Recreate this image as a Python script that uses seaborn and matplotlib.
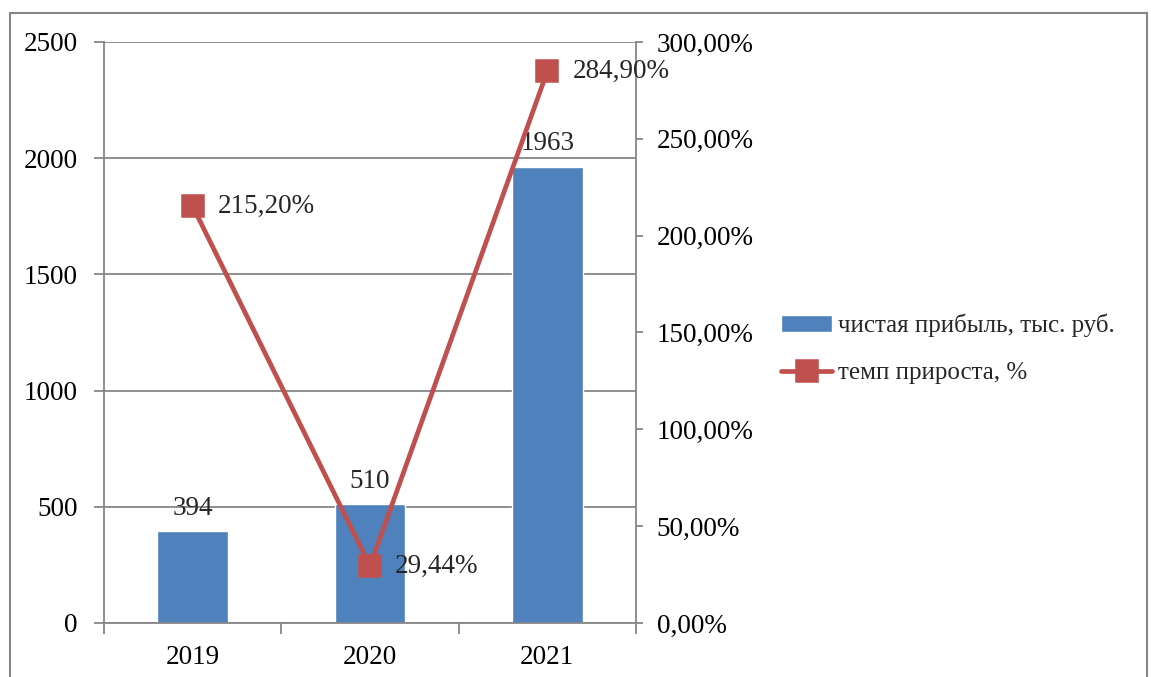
import matplotlib
matplotlib.use("Agg")
import matplotlib.pyplot as plt
import seaborn as sns
import pandas as pd
from matplotlib.patches import Rectangle
from matplotlib.ticker import FuncFormatter, FixedLocator

# Data
years = ["2019", "2020", "2021"]
profit = [394, 510, 1963]              # чистая прибыль, тыс. руб.
growth = [215.20, 29.44, 284.90]       # темп прироста, %
profit_label = "чистая прибыль, тыс. руб."
growth_label = "темп прироста, %"
left_ticks = [0, 500, 1000, 1500, 2000, 2500]
right_ticks = [0, 50, 100, 150, 200, 250, 300]

df = pd.DataFrame({"year": years, "profit": profit, "growth": growth})

sns.set_theme(style="white")
plt.rcParams["font.family"] = ["Liberation Serif", "DejaVu Serif"]
FS = 19.5

BLUE = "#4F81BD"
RED = "#C0504D"
GRAY = "#868686"

W, H = 1151, 677
fig = plt.figure(figsize=(W / 100, H / 100), dpi=100)

# outer chart frame
fig.patches.append(Rectangle((10 / W, -0.01), 1137 / W, (H - 13) / H + 0.01,
                             transform=fig.transFigure, fill=False,
                             edgecolor=GRAY, linewidth=1.5, zorder=0))

ax = fig.add_axes([104 / W, (H - 623) / H, 532 / W, 581 / H])
ax.set_facecolor("none")

sns.barplot(data=df, x="year", y="profit", color=BLUE, width=0.4,
            saturation=1, ax=ax, zorder=2, label=profit_label)

ax.set_ylim(0, 2500)
ax.set_xlim(-0.5, 2.5)
ax.yaxis.set_major_locator(FixedLocator(left_ticks))
ax.grid(axis="y", color=GRAY, linewidth=1.3, zorder=0)
ax.set_axisbelow(True)
ax.set_xlabel("")
ax.set_ylabel("")
for side in ("top", "right"):
    ax.spines[side].set_visible(False)
for side in ("left", "bottom"):
    ax.spines[side].set_color(GRAY)
    ax.spines[side].set_linewidth(1.3)

ax.tick_params(axis="y", which="major", direction="out", length=7, width=1.3,
               color=GRAY, pad=12, labelsize=FS, labelcolor="black", left=True)
ax.tick_params(axis="x", which="major", length=0, pad=16, labelsize=FS,
               labelcolor="black")
ax.set_xticks([-0.5, 0.5, 1.5, 2.5], minor=True)
ax.tick_params(axis="x", which="minor", direction="out", length=8, width=1.3,
               color=GRAY, bottom=True)

for i, v in enumerate(profit):
    ax.annotate(f"{v}", (i, v), xytext=(0, 12), textcoords="offset points",
                ha="center", va="baseline", fontsize=FS, zorder=5)

# secondary axis: growth rate
ax2 = ax.twinx()
sns.pointplot(data=df, x="year", y="growth", color=RED, markers="s",
              markersize=14, linewidth=3.4, errorbar=None, ax=ax2,
              label=growth_label)
ax2.set_ylim(0, 300)
ax2.set_xlim(-0.5, 2.5)
ax2.yaxis.set_major_locator(FixedLocator(right_ticks))
ax2.yaxis.set_major_formatter(
    FuncFormatter(lambda v, _: f"{v:.2f}".replace(".", ",") + "%"))
ax2.set_ylabel("")
ax2.set_xlabel("")
for side in ("top", "left", "bottom"):
    ax2.spines[side].set_visible(False)
ax2.spines["right"].set_color(GRAY)
ax2.spines["right"].set_linewidth(1.3)
ax2.tick_params(axis="y", direction="out", length=5, width=1.3, color=GRAY,
                pad=10, labelsize=FS, labelcolor="black", right=True)
ax2.grid(False)

for i, v in enumerate(growth):
    ax2.annotate(f"{v:.2f}".replace(".", ",") + "%", (i, v),
                 xytext=(18, 0), textcoords="offset points",
                 ha="left", va="center", fontsize=FS, zorder=5)

# legend (shared for both axes, placed outside the plot)
h1, l1 = ax.get_legend_handles_labels()
h2, l2 = ax2.get_legend_handles_labels()
for a in (ax, ax2):
    if a.get_legend() is not None:
        a.get_legend().remove()
fig.legend(h1 + h2, l1 + l2, loc="center left",
           bbox_to_anchor=(781 / W, (H - 349) / H), frameon=False,
           fontsize=18, handlelength=2.05, handletextpad=0.25,
           labelspacing=1.0, borderaxespad=0, borderpad=0)

fig.savefig("out.png", dpi=100)
